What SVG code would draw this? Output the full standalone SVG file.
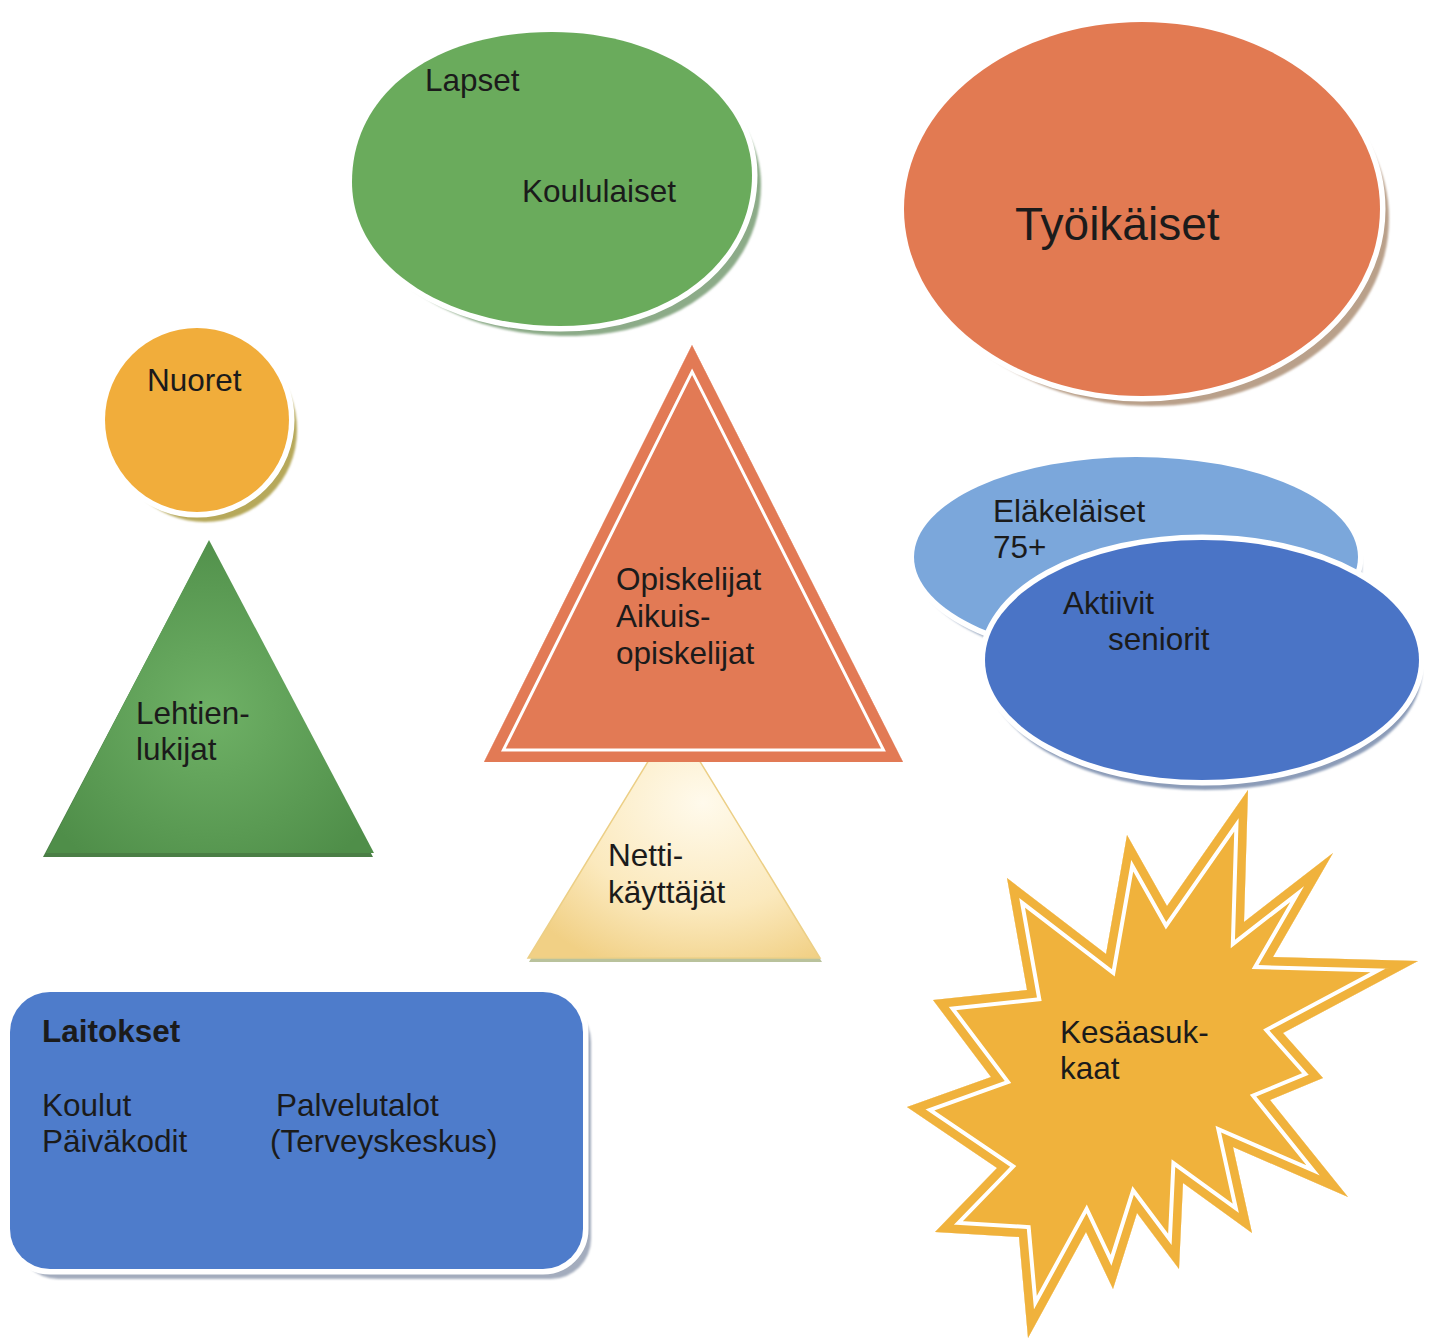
<svg xmlns="http://www.w3.org/2000/svg" width="1435" height="1340" viewBox="0 0 1435 1340">
<style>
  text { font-family: "Liberation Sans", Arial, sans-serif; font-size: 31.5px; fill: #1b1b1b; }
  .big { font-size: 46px; }
  .bold { font-weight: bold; }
  .outline { stroke: #ffffff; stroke-width: 11; paint-order: stroke; }
</style>
<defs>
  <filter id="soft" x="-10%" y="-10%" width="120%" height="120%">
    <feGaussianBlur stdDeviation="1.3"/>
  </filter>
  <radialGradient id="greenTri" cx="0.5" cy="0.55" r="0.6">
    <stop offset="0" stop-color="#6fb166"/>
    <stop offset="1" stop-color="#4f8e49"/>
  </radialGradient>
  <radialGradient id="netti" cx="0.6" cy="0.35" r="0.75">
    <stop offset="0" stop-color="#fffaec"/>
    <stop offset="0.6" stop-color="#fbe9bd"/>
    <stop offset="1" stop-color="#f1d085"/>
  </radialGradient>
  <path id="lapsetShape" d="M352,182 C352,92 435,32 552,32 C665,32 752,95 752,175 C752,262 670,326 560,326 C448,326 352,268 352,182 Z"/>
  <polygon id="starShape" points="1248,790 1244,922 1333,853 1273,957 1418,961 1283,1033 1323,1078 1270,1100 1348,1197 1233,1147 1252,1233 1183,1183 1179,1269 1137,1213 1113,1289 1086,1232 1028,1338 1019,1237 935,1232 997,1168 907,1107 991,1077 933,1000 1027,990 1007,878 1106,954 1127,835 1167,906"/>
  <clipPath id="starClip"><use href="#starShape"/></clipPath>
  <polygon id="triShape" points="692,345 903,762 484,762"/>
  <clipPath id="triClip"><use href="#triShape"/></clipPath>
</defs>

<g id="connectors"></g>

<g id="lapset">
  <use href="#lapsetShape" transform="translate(9,10)" fill="#8cab88" filter="url(#soft)"/>
  <use href="#lapsetShape" fill="#6aab5c" class="outline"/>
  <text x="425" y="91">Lapset</text>
  <text x="522" y="202">Koululaiset</text>
</g>

<g id="tyoikaiset">
  <ellipse cx="1151" cy="219" rx="238" ry="187" fill="#b9a08a" filter="url(#soft)"/>
  <ellipse cx="1142" cy="209" rx="238" ry="187" fill="#e27a52" class="outline"/>
  <text x="1015" y="240" class="big">Työikäiset</text>
</g>

<g id="nuoret">
  <circle cx="205" cy="430" r="92" fill="#b6a85a" filter="url(#soft)"/>
  <circle cx="197" cy="420" r="92" fill="#f1ad3b" class="outline"/>
  <text x="147" y="391">Nuoret</text>
</g>

<g id="lehtienlukijat">
  <polygon points="207,545 373,857 43,857" fill="#4a7e45"/>
  <polygon points="209,540 374,853 46,853" fill="url(#greenTri)"/>
  <text x="136" y="724">Lehtien-</text>
  <text x="136" y="760">lukijat</text>
</g>

<g id="nettikayttajat">
  <polygon points="674,722 822,962 529,962" fill="#b9c29c"/>
  <polygon points="674,719 820,958 528,958" fill="url(#netti)" stroke="#eccf86" stroke-width="1.5"/>
  <text x="608" y="866">Netti-</text>
  <text x="608" y="903">käyttäjät</text>
</g>

<g id="opiskelijat">
  <use href="#triShape" fill="#e27a55"/>
  <use href="#triShape" fill="none" stroke="#ffffff" stroke-width="27" stroke-linejoin="miter" stroke-miterlimit="20" clip-path="url(#triClip)"/>
  <use href="#triShape" fill="none" stroke="#e27a55" stroke-width="21" stroke-linejoin="miter" stroke-miterlimit="20" clip-path="url(#triClip)"/>
  <text x="616" y="590">Opiskelijat</text>
  <text x="616" y="627">Aikuis-</text>
  <text x="616" y="664">opiskelijat</text>
</g>

<g id="elakelaiset">
  <ellipse cx="1140" cy="566" rx="222" ry="100" fill="#98a8c0" filter="url(#soft)"/>
  <ellipse cx="1136" cy="557" rx="222" ry="100" fill="#7ba7db" class="outline"/>
  <text x="993" y="522">Eläkeläiset</text>
  <text x="993" y="558">75+</text>
</g>

<g id="aktiivit">
  <ellipse cx="1205" cy="670" rx="217" ry="120" fill="#8c9cb8" filter="url(#soft)"/>
  <ellipse cx="1202" cy="660" rx="217" ry="120" fill="#4a74c6" class="outline"/>
  <text x="1063" y="614">Aktiivit</text>
  <text x="1108" y="650">seniorit</text>
</g>

<g id="kesaasukkaat">
  <use href="#starShape" fill="#f0b23c"/>
  <use href="#starShape" fill="none" stroke="#ffffff" stroke-width="25" stroke-linejoin="miter" stroke-miterlimit="30" clip-path="url(#starClip)"/>
  <use href="#starShape" fill="none" stroke="#f0b23c" stroke-width="17" stroke-linejoin="miter" stroke-miterlimit="30" clip-path="url(#starClip)"/>
  <text x="1060" y="1043">Kesäasuk-</text>
  <text x="1060" y="1079">kaat</text>
</g>

<g id="laitokset">
  <rect x="18" y="1002" width="573" height="277" rx="40" fill="#a3acbd" filter="url(#soft)"/>
  <rect x="10" y="992" width="573" height="277" rx="40" fill="#4e7ccb" class="outline"/>
  <text x="42" y="1042" class="bold">Laitokset</text>
  <text x="42" y="1116">Koulut</text>
  <text x="42" y="1152">Päiväkodit</text>
  <text x="276" y="1116">Palvelutalot</text>
  <text x="270" y="1152">(Terveyskeskus)</text>
</g>
</svg>
